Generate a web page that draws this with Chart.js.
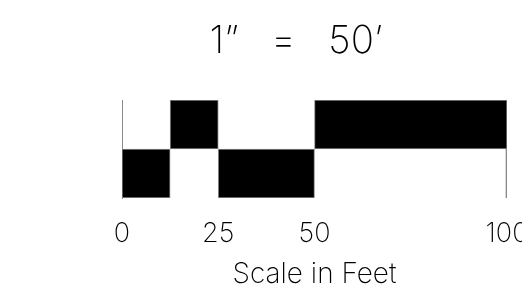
<!DOCTYPE html>
<html>
<head>
<meta charset="utf-8">
<script src="https://cdn.jsdelivr.net/npm/chart.js@4.4.0/dist/chart.umd.min.js"></script>
<style>
  html, body { margin: 0; padding: 0; background: #fff; }
  #wrap { width: 522px; height: 297px; }
</style>
</head>
<body>
<div id="wrap"><canvas id="scaleChart"></canvas></div>
<script>
const rowLabels = ['top', 'bottom'];
const divisions = [0, 12.5, 25, 50, 100];
const topFilled = [false, true, false, true];
const bottomFilled = [true, false, true, false];
const tickValues = [0, 25, 50, 100];
const titleText = '1”   =   50’';
const axisTitle = 'Scale in Feet';

const lineGrey = '#8a8a8a';
const emptyFill = 'rgba(255,255,255,0)';
const fontFamily = 'Inter, "DejaVu Sans", sans-serif';

// one dataset per division, covering both rows
const datasets = [];
for (let i = 0; i < divisions.length - 1; i++) {
    const span = [divisions[i], divisions[i + 1]];
    const last = i === divisions.length - 2;
    datasets.push({
        label: 'seg' + i,
        data: [span, span],
        backgroundColor: [topFilled[i] ? '#000' : emptyFill, bottomFilled[i] ? '#000' : emptyFill],
        borderColor: lineGrey,
        borderWidth: [
            topFilled[i] ? 1 : 0,
            bottomFilled[i] ? 1 : (last ? {top: 0, left: 0, bottom: 0, right: 1} : 0)
        ],
        borderSkipped: false
    });
}

const ctx = document.getElementById('scaleChart').getContext('2d');
new Chart(ctx, {
    type: 'bar',
    data: { labels: rowLabels, datasets: datasets },
    options: {
        indexAxis: 'y',
        responsive: true,
        maintainAspectRatio: false,
        animation: false,
        grouped: false,
        barPercentage: 1,
        categoryPercentage: 1,
        layout: { padding: { top: 0, left: 85, right: 15, bottom: 0 } },
        plugins: {
            legend: { display: false },
            tooltip: { enabled: false },
            title: {
                display: true,
                text: titleText,
                color: '#000',
                font: { family: fontFamily, size: 38.5, weight: 200 },
                padding: { top: 17.9, bottom: 35.9 }
            }
        },
        scales: {
            x: {
                type: 'linear',
                min: 0,
                max: 100,
                afterBuildTicks: scale => {
                    scale.ticks = tickValues.map(v => ({ value: v }));
                },
                afterFit: scale => {
                    // let the "100" run off the edge like the original
                    scale.paddingLeft = 0;
                    scale.paddingRight = 0;
                },
                grid: { display: false, drawTicks: false },
                border: { display: false },
                ticks: {
                    color: '#000',
                    padding: 20,
                    maxRotation: 0,
                    autoSkip: false,
                    font: { family: fontFamily, size: 27, weight: 200 }
                },
                title: {
                    display: true,
                    text: axisTitle,
                    color: '#000',
                    padding: { top: -12.7, bottom: 5.7 },
                    font: { family: fontFamily, size: 28, weight: 200 }
                }
            },
            y: {
                type: 'category',
                z: 1,
                afterFit: scale => { scale.width = 37; },
                grid: { display: false, drawTicks: false },
                border: { display: true, color: lineGrey, width: 1 },
                ticks: { display: false }
            }
        }
    }
});
</script>
</body>
</html>
